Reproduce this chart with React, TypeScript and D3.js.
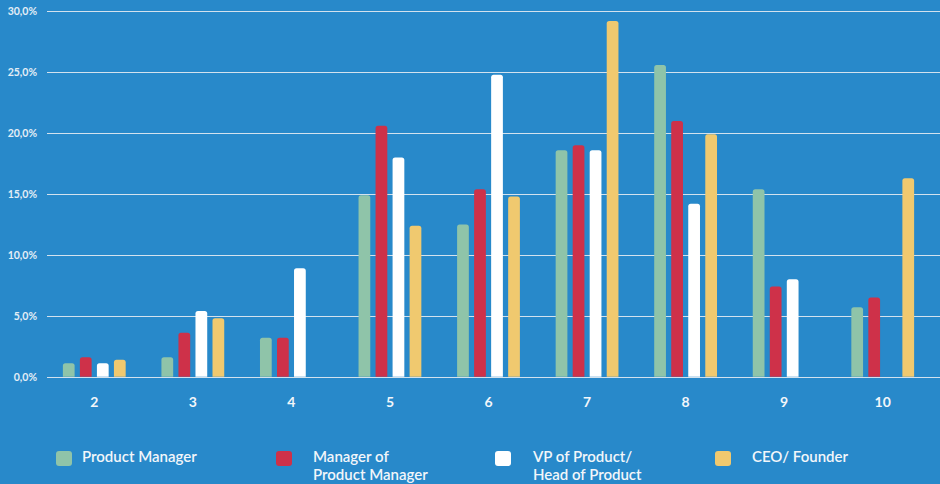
import React from "react";
import * as d3 from "d3";

const categories = ["2", "3", "4", "5", "6", "7", "8", "9", "10"];
const seriesNames = ["Product Manager", "Manager of Product Manager", "VP of Product/ Head of Product", "CEO/ Founder"];
const productManager = [1.1, 1.6, 3.2, 14.9, 12.5, 18.6, 25.6, 15.4, 5.7];
const managerOfPM = [1.6, 3.6, 3.2, 20.6, 15.4, 19.0, 21.0, 7.4, 6.5];
const vpProduct = [1.1, 5.4, 8.9, 18.0, 24.8, 18.6, 14.2, 8.0, null];
const ceoFounder = [1.4, 4.8, null, 12.4, 14.8, 29.2, 19.9, null, 16.3];
const yTicks = [0, 5, 10, 15, 20, 25, 30];

const colors = ["#8fc4a9", "#ce3149", "#ffffff", "#f0c96f"];
const legendLines = [["Product Manager"], ["Manager of", "Product Manager"], ["VP of Product/", "Head of Product"], ["CEO/ Founder"]];
const legendX = [56, 276, 495, 715];
const legendTextX = [82, 313, 533, 752];

const W = 940;
const H = 484;
const BG = "#2889ca";
const FONT = "Lato, 'Open Sans', sans-serif";

function topRoundedBar(x: number, y: number, w: number, h: number, r: number) {
  const rr = Math.min(r, h, w / 2);
  return `M${x},${y + h}V${y + rr}Q${x},${y} ${x + rr},${y}H${x + w - rr}Q${x + w},${y} ${x + w},${y + rr}V${y + h}Z`;
}

export default function App() {
  const allSeries = [productManager, managerOfPM, vpProduct, ceoFounder];
  const y = d3.scaleLinear().domain([0, 30]).range([376.7, 11.3]);
  const x0 = d3.scaleBand<string>().domain(categories).range([45, 932]).paddingInner(0).paddingOuter(0);
  const x1 = d3
    .scaleBand<string>()
    .domain(seriesNames)
    .range([0, x0.bandwidth()])
    .paddingInner(0.31)
    .paddingOuter(1.05);

  return (
    <svg width={W} height={H} style={{ position: "absolute", left: 0, top: 0, display: "block" }}>
      <rect x={0} y={0} width={W} height={H} fill={BG} />
      {yTicks.map((t) => (
        <g key={t}>
          <line x1={47} x2={W} y1={Math.round(y(t)) + 0.5} y2={Math.round(y(t)) + 0.5} stroke="#d3e2ee" strokeWidth={1} />
          <text
            x={37}
            y={y(t) + 3.8}
            textAnchor="end"
            fontFamily={FONT}
            fontWeight={700}
            fontSize={10.5}
            fill="#e3eef6"
          >
            {t.toFixed(1).replace(".", ",") + "%"}
          </text>
        </g>
      ))}
      {categories.map((c, i) => (
        <g key={c}>
          {allSeries.map((s, si) => {
            const v = s[i];
            if (v == null) return null;
            const bx = (x0(c) as number) + (x1(seriesNames[si]) as number);
            const by = y(v);
            const bh = y(0) - by;
            return <path key={si} d={topRoundedBar(bx, by, x1.bandwidth(), bh, 2.5)} fill={colors[si]} />;
          })}
          <text
            x={(x0(c) as number) + x0.bandwidth() / 2}
            y={407}
            textAnchor="middle"
            fontFamily={FONT}
            fontWeight={700}
            fontSize={14}
            fill="#f2f6fa"
          >
            {c}
          </text>
        </g>
      ))}
      <line x1={47} x2={W} y1={377.5} y2={377.5} stroke="#d3e2ee" strokeWidth={1} />
      {seriesNames.map((n, i) => (
        <g key={n}>
          <rect x={legendX[i]} y={451} width={16} height={15} rx={3} fill={colors[i]} />
          {legendLines[i].map((ln, li) => (
            <text
              key={li}
              x={legendTextX[i]}
              y={462 + li * 18}
              fontFamily={FONT}
              fontWeight={600}
              fontSize={15}
              fill="#f2f6fa"
            >
              {ln}
            </text>
          ))}
        </g>
      ))}
    </svg>
  );
}
